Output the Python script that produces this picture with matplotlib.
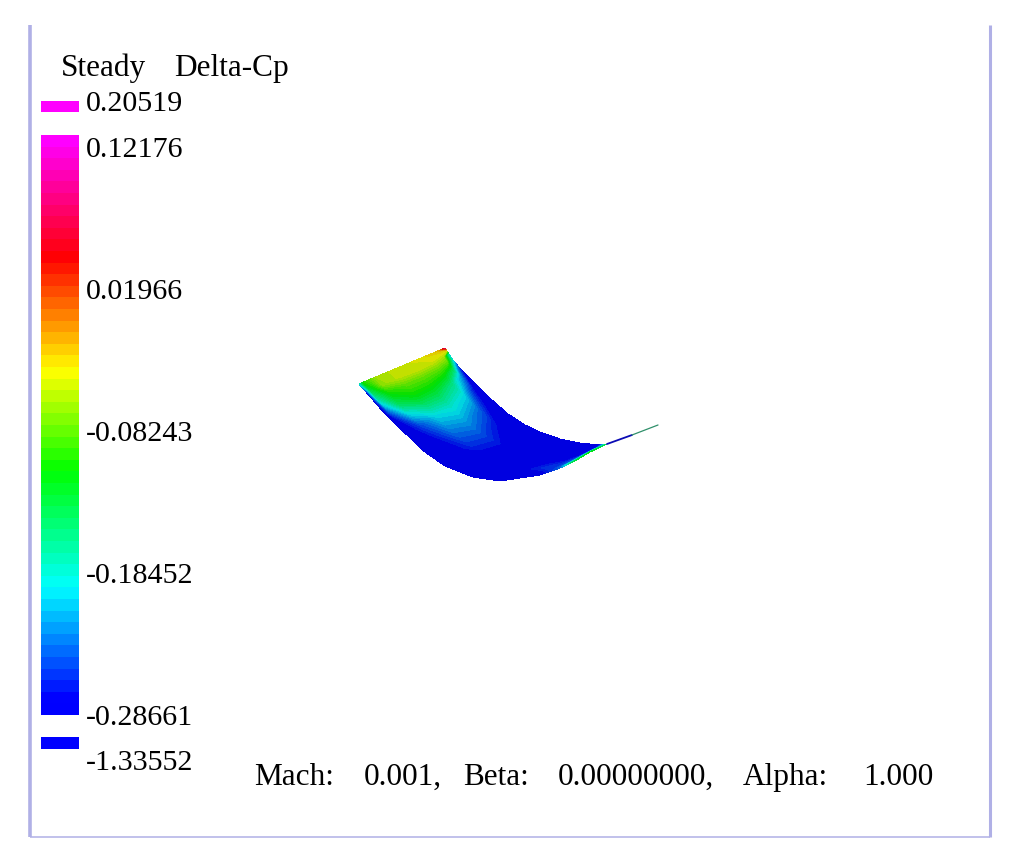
import numpy as np
import matplotlib
matplotlib.use('Agg')
import matplotlib.pyplot as plt
from matplotlib.colors import LinearSegmentedColormap, BoundaryNorm, ListedColormap
from matplotlib.patches import Rectangle

# --- data ---
title_words = ['Steady', 'Delta-Cp']
title_x = [61, 174]
info_words = ['Mach:', '0.001,', 'Beta:', '0.00000000,', 'Alpha:', '1.000']
info_x = [254, 364, 463, 558, 743, 863]
tick_labels = ['0.20519', '0.12176', '0.01966', '-0.08243', '-0.18452', '-0.28661', '-1.33552']
tick_y = [104, 150, 292, 434, 576, 718, 763]
cp_max = 0.12176
cp_min = -0.28661
n_bands = 50

# wing outline in picture pixels, same stations on both edges
lower_x = [359, 366, 373, 385, 395, 407, 425, 445, 473, 500, 540, 560, 573, 590, 607]
lower_y = [384, 392, 400, 414, 424, 435, 452, 466, 477, 481, 475, 468, 462, 452, 444]
upper_x = [445, 449, 453, 458, 465, 478, 492, 508, 525, 540, 560, 580, 590, 600, 607]
upper_y = [348, 354, 360, 366, 373, 386, 400, 414, 425, 432, 439, 443, 444, 444, 444]

# chordwise positions and Cp at each station
chord = [0, 0.05, 0.2, 0.4, 0.6, 0.8, 0.93, 1]
cp = [
    [-0.20, -0.11, -0.065, -0.055, -0.05, -0.04, -0.03, 0.06],
    [-0.28, -0.14, -0.07, -0.055, -0.05, -0.05, -0.06, -0.20],
    [-0.29, -0.17, -0.11, -0.085, -0.08, -0.08, -0.09, -0.20],
    [-0.29, -0.24, -0.15, -0.115, -0.11, -0.115, -0.15, -0.26],
    [-0.29, -0.28, -0.20, -0.15, -0.14, -0.16, -0.22, -0.29],
    [-0.29, -0.29, -0.25, -0.20, -0.185, -0.20, -0.27, -0.29],
    [-0.29, -0.29, -0.28, -0.235, -0.22, -0.24, -0.285, -0.29],
    [-0.29, -0.29, -0.29, -0.26, -0.25, -0.27, -0.29, -0.29],
    [-0.29, -0.29, -0.29, -0.285, -0.275, -0.285, -0.29, -0.29],
    [-0.29, -0.29, -0.29, -0.29, -0.29, -0.29, -0.29, -0.29],
    [-0.28, -0.28, -0.26, -0.285, -0.29, -0.29, -0.29, -0.29],
    [-0.24, -0.24, -0.26, -0.285, -0.29, -0.29, -0.29, -0.29],
    [-0.14, -0.17, -0.25, -0.285, -0.29, -0.29, -0.29, -0.29],
    [-0.12, -0.14, -0.20, -0.27, -0.29, -0.29, -0.29, -0.29],
    [-0.15, -0.15, -0.15, -0.15, -0.15, -0.15, -0.15, -0.15],
]

# thin tip of the wing past the last station
tip_x = [607, 632, 658]
tip_y = [444, 435, 425]
tip_colors = ['#0a0ab4', '#2f8f6a']

# --- colours ---
rainbow = LinearSegmentedColormap.from_list('rainbow_cp', [
    (0.0, '#0000ff'), (0.02, '#0000ff'), (0.215, '#00ffff'), (0.42, '#00ff00'),
    (0.595, '#ffff00'), (0.793, '#ff0000'), (1.0, '#ff00ff')], N=n_bands)
# the wing is lit, so its colours sit a bit darker than the bar
band_rgb = rainbow(np.arange(n_bands))[:, :3] * 0.88
wing_cmap = ListedColormap(band_rgb)
wing_cmap.set_under(band_rgb[0])
wing_cmap.set_over(band_rgb[-1])
levels = np.linspace(cp_min, cp_max, n_bands + 1)
norm = BoundaryNorm(levels, n_bands)
frame_color = '#b0b0e6'
text_size = 21.6
spaced_size = 22.5

# --- figure, main axes runs in picture pixels ---
fig = plt.figure(figsize=(10.24, 8.61), dpi=100)
ax = fig.add_axes([0, 0, 1, 1])
ax.set_xlim(0, 1024)
ax.set_ylim(861, 0)
ax.axis('off')

ax.plot([30, 30], [25, 837], color=frame_color, lw=2.6, solid_capstyle='butt')
ax.plot([990, 990], [25, 837], color=frame_color, lw=2.2, solid_capstyle='butt')
ax.plot([30, 990], [836.5, 836.5], color=frame_color, lw=1.1, solid_capstyle='butt')

# wing surface
t = np.array(chord)
lx, ly, ux, uy = map(np.array, (lower_x, lower_y, upper_x, upper_y))
X = np.outer(lx, 1 - t) + np.outer(ux, t)
Y = np.outer(ly, 1 - t) + np.outer(uy, t)
ax.contourf(X, Y, np.array(cp), levels=levels, cmap=wing_cmap, norm=norm, extend='both')
ax.plot(tip_x[:2], tip_y[:2], color=tip_colors[0], lw=1.3, solid_capstyle='round')
ax.plot(tip_x[1:], tip_y[1:], color=tip_colors[1], lw=0.9, solid_capstyle='round')

# colour bar and the two out of range bars
cax = fig.add_axes([41 / 1024, 1 - 715 / 861, 38 / 1024, 580 / 861])
cax.pcolormesh([0, 1], levels, np.array(levels[:-1] + np.diff(levels) / 2)[:, None],
               cmap=rainbow, norm=norm)
cax.axis('off')
ax.add_patch(Rectangle((41, 101), 38, 11, color=rainbow(1.0), lw=0))
ax.add_patch(Rectangle((41, 737), 38, 12, color=rainbow(0.0), lw=0))

# texts, the reference is letter spaced so words are placed one by one
font = {'family': 'Liberation Serif', 'color': 'black'}
for word, x in zip(title_words, title_x):
    ax.text(x, 76, word, fontsize=spaced_size, va='baseline', ha='left', **font)
for lab, y in zip(tick_labels, tick_y):
    ax.text(86, y, lab, fontsize=text_size, va='center', ha='left', **font)
for word, x in zip(info_words, info_x):
    ax.text(x, 785, word, fontsize=spaced_size, va='baseline', ha='left', **font)

fig.savefig('out.png', dpi=100)
